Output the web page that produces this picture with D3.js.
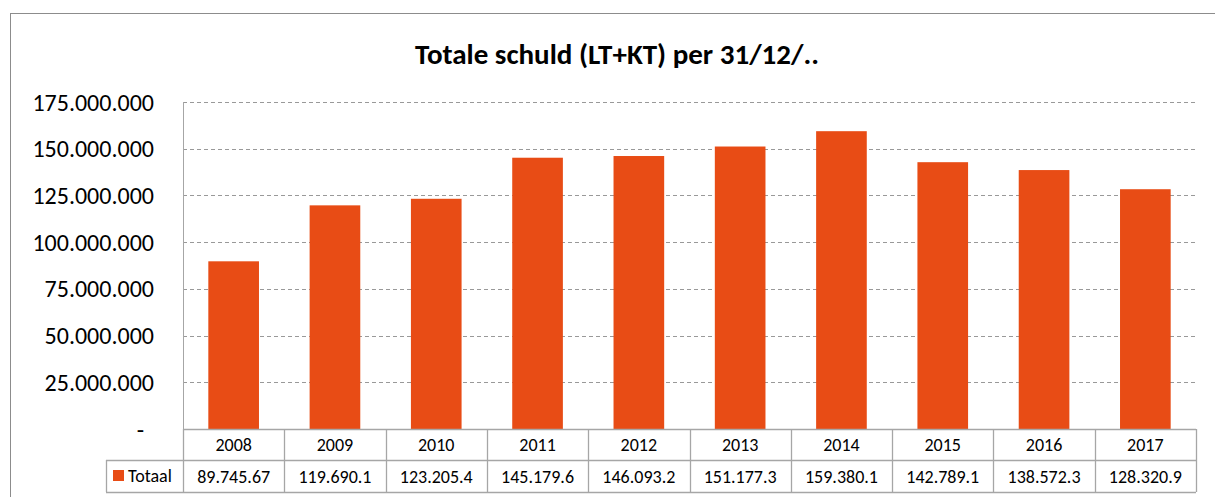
<!DOCTYPE html>
<html><head><meta charset="utf-8">
<script src="https://cdn.jsdelivr.net/npm/d3@7"></script>
<style>body{margin:0;background:#fff;}svg{display:block;}</style>
</head><body>
<svg id="c" width="1215" height="497"></svg>
<script>
const categories = ["2008","2009","2010","2011","2012","2013","2014","2015","2016","2017"];
const values = [89745670, 119690100, 123205400, 145179600, 146093200, 151177300, 159380100, 142789100, 138572300, 128320900];
const tableLabels = ["89.745.67","119.690.1","123.205.4","145.179.6","146.093.2","151.177.3","159.380.1","142.789.1","138.572.3","128.320.9"];
const yTicks = [0,25000000,50000000,75000000,100000000,125000000,150000000,175000000];
const seriesName = "Totaal";
const title = "Totale schuld (LT+KT) per 31/12/..";

const svg = d3.select("#c");
const font = "Carlito, Calibri, Lato, 'Open Sans', 'Liberation Sans', sans-serif";
const L = 183, R = 1196, T = 102, B = 429;
const color = "#E84C15";
const lineCol = "#A6A6A6";

// outer frame
svg.append("rect").attr("x",10.5).attr("y",13.5).attr("width",1220).attr("height",500)
  .attr("fill","none").attr("stroke","#8C8C8C").attr("stroke-width",1);

svg.append("text").attr("x",617).attr("y",64).attr("text-anchor","middle")
  .attr("font-family",font).attr("font-weight","bold").attr("font-size",29).attr("fill","#000")
  .text(title);

const x = d3.scaleBand().domain(categories).range([L,R]).paddingInner(0.5).paddingOuter(0.25);
const xb = d3.scaleBand().domain(categories).range([L,R]);
const y = d3.scaleLinear().domain([0,175000000]).range([B,T]);

// gridlines
svg.append("g").selectAll("line").data(yTicks.filter(d=>d>0)).join("line")
  .attr("x1",L).attr("x2",R).attr("y1",d=>Math.round(y(d))+0.5).attr("y2",d=>Math.round(y(d))+0.5)
  .attr("stroke","#999").attr("stroke-dasharray","4,3").attr("stroke-width",1);

// y labels
const fmt = d => d===0 ? "-" : d3.format(",")(d).replace(/,/g,".");
svg.append("g").selectAll("text").data(yTicks).join("text")
  .attr("x",d=>d===0?144:154).attr("y",d=>y(d)+8.5).attr("text-anchor","end")
  .attr("font-family",font).attr("font-size",24).attr("fill","#000")
  .text(fmt);

// bars
svg.append("g").selectAll("rect").data(values).join("rect")
  .attr("x",(d,i)=>x(categories[i])).attr("width",x.bandwidth())
  .attr("y",d=>y(d)).attr("height",d=>B-y(d)).attr("fill",color);

// y axis line
svg.append("line").attr("x1",L+0.5).attr("x2",L+0.5).attr("y1",T).attr("y2",B).attr("stroke",lineCol);

// table
const rowTop = B, rowMid = 460, rowBot = 492, tableLeft = 106;
const tg = svg.append("g").attr("stroke",lineCol).attr("stroke-width",1.3);
tg.append("line").attr("x1",L).attr("x2",R).attr("y1",rowTop+0.5).attr("y2",rowTop+0.5);
tg.append("line").attr("x1",tableLeft).attr("x2",R).attr("y1",rowMid+0.5).attr("y2",rowMid+0.5);
tg.append("line").attr("x1",tableLeft).attr("x2",R).attr("y1",rowBot+0.5).attr("y2",rowBot+0.5);
tg.append("line").attr("x1",tableLeft+0.5).attr("x2",tableLeft+0.5).attr("y1",rowMid).attr("y2",rowBot);
tg.selectAll("line.v").data(categories.concat(["end"])).join("line").attr("class","v")
  .attr("x1",(d,i)=>Math.round(L+i*xb.step())+0.5).attr("x2",(d,i)=>Math.round(L+i*xb.step())+0.5)
  .attr("y1",rowTop).attr("y2",rowBot);

svg.append("g").selectAll("text").data(categories).join("text")
  .attr("x",d=>xb(d)+xb.bandwidth()/2).attr("y",451).attr("text-anchor","middle")
  .attr("font-family",font).attr("font-size",18).text(d=>d);
svg.append("g").selectAll("text").data(tableLabels).join("text")
  .attr("x",(d,i)=>xb(categories[i])+xb.bandwidth()/2).attr("y",483).attr("text-anchor","middle")
  .attr("font-family",font).attr("font-size",18).text(d=>d);

svg.append("rect").attr("x",113).attr("y",470).attr("width",11).attr("height",11).attr("fill",color);
svg.append("text").attr("x",128).attr("y",482).attr("font-family",font).attr("font-size",18).text(seriesName);
</script>
</body></html>
